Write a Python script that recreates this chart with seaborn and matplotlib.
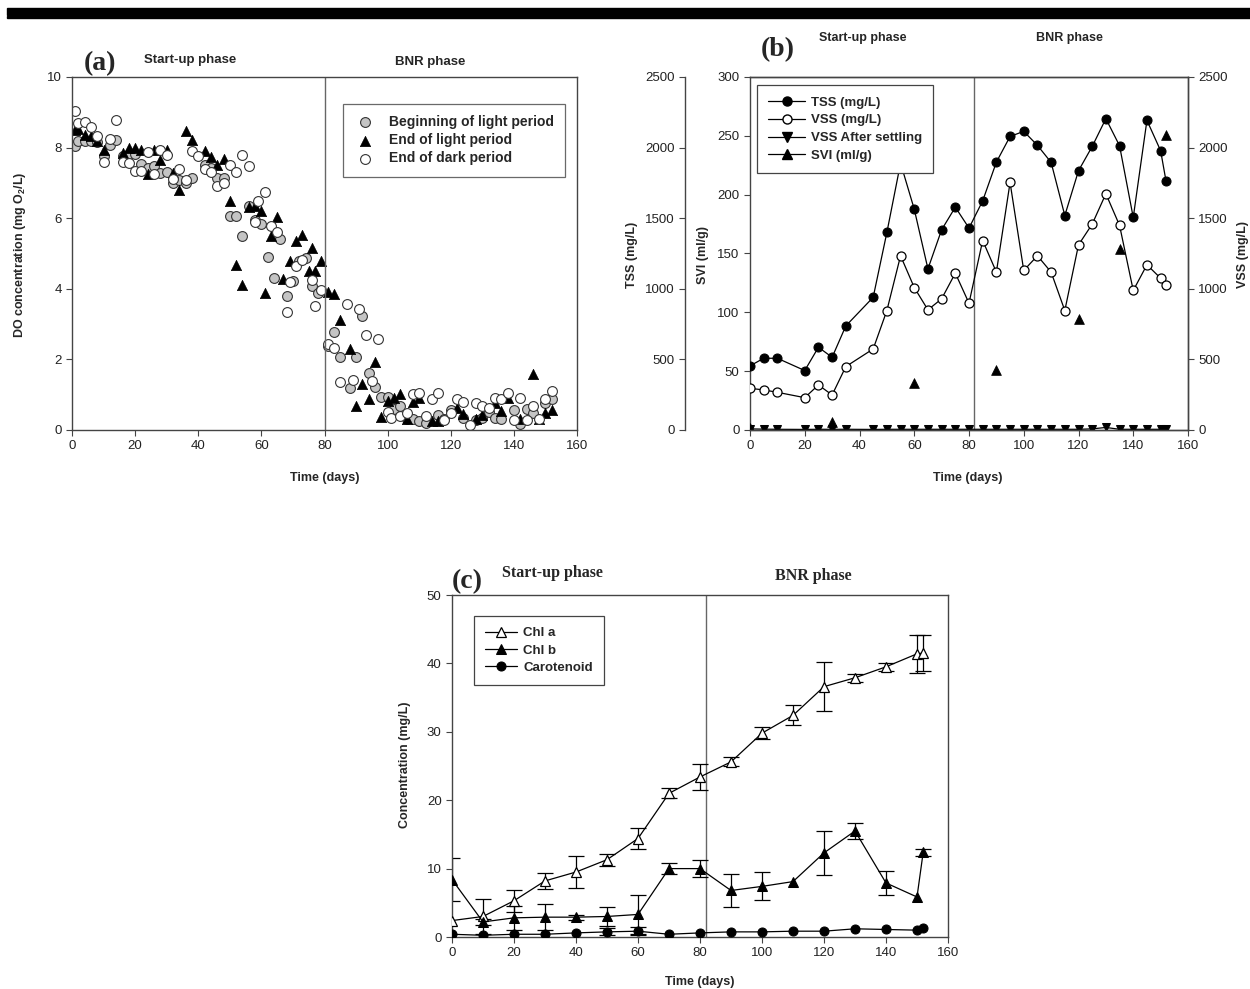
import numpy as np
import pandas as pd
import seaborn as sns
import matplotlib.pyplot as plt
from matplotlib.lines import Line2D
from matplotlib.patches import Rectangle

# ---- panel (a): DO concentration ----
gray_day = [1, 2, 4, 6, 8, 10, 12, 14, 16, 18,
            20, 22, 24, 26, 28, 30, 32, 34, 36, 38,
            42, 44, 46, 48, 50, 52, 54, 56, 58, 60,
            62, 64, 66, 68, 70, 72, 74, 76, 78, 81,
            83, 85, 88, 90, 92, 94, 96, 98, 100, 102,
            104, 106, 108, 110, 112, 116, 118, 120, 124, 128,
            130, 132, 134, 136, 140, 142, 144, 146, 150, 152]
gray_val = [8.05, 8.18, 8.2, 8.2, 8.15, 7.75, 8.08, 8.22, 7.75, 7.82,
            7.82, 7.54, 7.42, 7.49, 7.28, 7.3, 7.0, 7.09, 7.0, 7.14,
            7.5, 7.42, 7.14, 7.14, 6.06, 6.06, 5.49, 6.34, 5.96, 5.84,
            4.9, 4.31, 5.4, 3.79, 4.22, 4.78, 4.88, 4.08, 3.89, 2.38,
            2.77, 2.07, 1.2, 2.07, 3.23, 1.62, 1.23, 0.93, 0.93, 0.6,
            0.68, 0.3, 0.32, 0.25, 0.21, 0.42, 0.3, 0.58, 0.35, 0.27,
            0.35, 0.51, 0.35, 0.3, 0.57, 0.18, 0.6, 0.47, 0.77, 0.89]

tri_day = [1, 2, 4, 6, 8, 10, 16, 18, 20, 22,
           24, 26, 28, 30, 32, 34, 36, 38, 42, 44,
           46, 48, 50, 52, 54, 56, 58, 60, 61, 63,
           65, 67, 69, 71, 73, 75, 76, 77, 79, 81,
           83, 85, 88, 90, 92, 94, 96, 98, 100, 102,
           104, 106, 108, 110, 114, 116, 122, 124, 128, 130,
           134, 136, 138, 142, 146, 148, 150, 152]
tri_val = [8.5, 8.53, 8.37, 8.32, 8.18, 7.92, 7.85, 7.99, 7.99, 7.92,
           7.26, 7.92, 7.66, 7.92, 7.28, 6.81, 8.48, 8.21, 7.9, 7.74,
           7.52, 7.68, 6.5, 4.67, 4.1, 6.31, 6.34, 6.19, 3.89, 5.49,
           6.03, 4.29, 4.8, 5.35, 5.51, 4.5, 5.16, 4.5, 4.78, 3.9,
           3.84, 3.13, 2.3, 0.68, 1.29, 0.87, 1.92, 0.37, 0.82, 0.92,
           1.03, 0.3, 0.8, 0.9, 0.25, 0.25, 0.63, 0.44, 0.3, 0.42,
           0.77, 0.54, 0.92, 0.32, 1.59, 0.32, 0.49, 0.57]

open_day = [1, 2, 4, 6, 8, 10, 12, 14, 16, 18,
            20, 22, 24, 26, 28, 30, 32, 34, 36, 38,
            40, 42, 44, 46, 48, 50, 52, 54, 56, 58,
            59, 61, 63, 65, 68, 69, 71, 73, 76, 77,
            79, 81, 83, 85, 87, 89, 91, 93, 95, 97,
            100, 101, 104, 106, 108, 110, 112, 114, 116, 118,
            120, 122, 124, 126, 128, 130, 132, 134, 136, 138,
            140, 142, 144, 146, 148, 150, 152]
open_val = [9.03, 8.7, 8.73, 8.58, 8.34, 7.58, 8.25, 8.77, 7.58, 7.57,
            7.35, 7.35, 7.88, 7.24, 7.92, 7.8, 7.11, 7.38, 7.09, 7.9,
            7.75, 7.4, 7.3, 6.9, 7.0, 7.5, 7.3, 7.8, 7.47, 5.9,
            6.5, 6.73, 5.77, 5.6, 3.35, 4.2, 4.66, 4.83, 4.24, 3.5,
            3.98, 2.45, 2.33, 1.36, 3.56, 1.43, 3.42, 2.68, 1.39, 2.57,
            0.51, 0.35, 0.4, 0.47, 1.03, 1.06, 0.4, 0.89, 1.06, 0.28,
            0.49, 0.89, 0.79, 0.13, 0.77, 0.68, 0.63, 0.92, 0.89, 1.06,
            0.27, 0.91, 0.27, 0.68, 0.32, 0.89, 1.1]

# ---- panel (b): solids ----
b_day = [0, 5, 10, 20, 25, 30, 35, 45, 50, 55, 60, 65, 70, 75, 80,
         85, 90, 95, 100, 105, 110, 115, 120, 125, 130, 135, 140, 145, 150, 152]
tss = [454, 508, 508, 421, 586, 515, 737, 940, 1399, 1890, 1564, 1141, 1418, 1578, 1430,
       1623, 1897, 2079, 2115, 2016, 1895, 1519, 1836, 2008, 2205, 2013, 1505, 2193, 1978, 1760]
vss = [295, 284, 267, 229, 319, 248, 449, 574, 846, 1234, 1009, 851, 929, 1111, 898,
       1342, 1118, 1753, 1130, 1234, 1118, 846, 1311, 1458, 1673, 1449, 988, 1170, 1075, 1028]
vss_settled = [8, 6, 5, 4, 5, 5, 5, 4, 5, 5, 5, 5, 5, 5, 5,
               5, 5, 5, 5, 5, 5, 5, 5, 8, 18, 5, 5, 5, 5, 5]
svi_day = [0, 30, 60, 90, 120, 135, 152]
svi = [2, 7, 40, 51, 94, 154, 251]

# ---- panel (c): pigments ----
c_day = [0, 10, 20, 30, 40, 50, 60, 70, 80, 90, 100, 110, 120, 130, 140, 150, 152]
chla = [2.4, 3.0, 5.3, 8.2, 9.5, 11.3, 14.4, 21.0, 23.4, 25.6, 29.8, 32.4, 36.6, 37.9, 39.5, 41.4, 41.5]
chla_err = [0.0, 2.5, 1.6, 1.2, 2.3, 0.85, 1.6, 0.75, 1.9, 0.65, 0.85, 1.45, 3.6, 0.55, 0.55, 2.75, 2.65]
chlb = [8.4, 2.2, 2.8, 2.9, 2.9, 3.0, 3.3, 10.0, 10.0, 6.8, 7.4, 8.1, 12.3, 15.5, 7.9, 5.85, 12.4]
chlb_err = [3.2, 0.5, 1.8, 1.9, 0.35, 1.35, 2.8, 0.8, 1.2, 2.35, 2.05, 0.0, 3.2, 1.2, 1.8, 0.0, 0.5]
car = [0.4, 0.25, 0.4, 0.4, 0.6, 0.75, 0.85, 0.4, 0.6, 0.75, 0.75, 0.85, 0.85, 1.2, 1.1, 1.0, 1.35]
car_err = [0, 0, 0, 0, 0, 0.5, 0.6, 0, 0, 0, 0, 0, 0, 0, 0, 0, 0]

sns.set_theme(style="ticks")
plt.rcParams['font.family'] = ['Liberation Sans', 'DejaVu Sans']
plt.rcParams['mathtext.fontset'] = 'custom'
plt.rcParams['mathtext.rm'] = 'Liberation Sans:bold'
plt.rcParams['mathtext.default'] = 'rm'

W, H = 1250, 989
EDGE = '#444444'
fig = plt.figure(figsize=(W / 100, H / 100), dpi=100)


def px_axes(l, t, r, b):
    return fig.add_axes([l / W, 1 - b / H, (r - l) / W, (b - t) / H])


def ftext(x, y, s, **kw):
    fig.text(x / W, 1 - y / H, s, ha='center', va='center', **kw)


def style(ax):
    for sp in ax.spines.values():
        sp.set_color(EDGE)
        sp.set_linewidth(1.0)
    ax.tick_params(direction='out', length=4, width=0.8, color=EDGE, labelsize=9.5, labelcolor='#222222')


lab = dict(fontsize=9, fontweight='bold')
serif = dict(family=['Liberation Serif', 'DejaVu Serif'], fontweight='bold')

# top banner
fig.add_artist(Rectangle((7 / W, 1 - 15 / H), 1, 7 / H, transform=fig.transFigure, color='black'))
fig.add_artist(Rectangle((7 / W, 1 - 18 / H), 1, 1.6 / H, transform=fig.transFigure, color='black'))

# ---------------- (a) ----------------
ax_a = px_axes(72, 77, 577, 430)
sns.scatterplot(x=gray_day, y=gray_val, ax=ax_a, marker='o', s=50, color='#c4c4c4',
                edgecolor='#333333', linewidth=0.8, label='Beginning of light period')
sns.scatterplot(x=tri_day, y=tri_val, ax=ax_a, marker='^', s=55, color='black',
                edgecolor='black', linewidth=0.5, label='End of light period')
sns.scatterplot(x=open_day, y=open_val, ax=ax_a, marker='o', s=50, color='white',
                edgecolor='#333333', linewidth=0.8, label='End of dark period')
ax_a.axvline(80, color='#666666', lw=1)
ax_a.set_xlim(0, 160)
ax_a.set_ylim(0, 10)
ax_a.set_xticks(range(0, 161, 20))
ax_a.set_yticks(range(0, 11, 2))
ax_a.set_xlabel('')
ax_a.set_ylabel('')
style(ax_a)
leg = ax_a.legend(loc='upper left', bbox_to_anchor=(0.537, 0.9235), borderaxespad=0, frameon=True,
                  fancybox=False, edgecolor=EDGE, prop={'weight': 'bold', 'size': 10}, handletextpad=0.9,
                  borderpad=0.8, labelspacing=0.3, handlelength=1.6)
leg.get_frame().set_linewidth(0.9)
ftext(20, 255, 'DO concentration (mg O$_2$/L)', rotation=90, **lab)
ftext(325, 478, 'Time (days)', **lab)
ftext(100, 64, '(a)', fontsize=20, **serif)
ftext(190, 60, 'Start-up phase', fontsize=9.5, fontweight='bold')
ftext(430, 62, 'BNR phase', fontsize=9.5, fontweight='bold')

# ---------------- (b) ----------------
ax_b = px_axes(750, 77, 1188, 430)
ax_vss = ax_b.twinx()
ax_tss = ax_b.twinx()
ax_tss.spines['left'].set_position(('outward', 65 * 0.72))
ax_tss.yaxis.set_ticks_position('left')
for name in ['right', 'top', 'bottom']:
    ax_tss.spines[name].set_visible(False)
ax_vss.spines['left'].set_visible(False)

ax_b.axvline(82, color='#666666', lw=1)
sns.scatterplot(x=svi_day, y=svi, ax=ax_b, marker='^', s=50, color='black', edgecolor='black',
                linewidth=0.5, legend=False, zorder=4)
sns.lineplot(x=b_day, y=vss_settled, ax=ax_vss, color='black', lw=0.9, marker='v', markersize=6,
             markerfacecolor='black', markeredgecolor='black', legend=False)
sns.lineplot(x=b_day, y=vss, ax=ax_vss, color='black', lw=0.9, marker='o', markersize=6.5,
             markerfacecolor='white', markeredgecolor='black', markeredgewidth=0.9, legend=False)
sns.lineplot(x=b_day, y=tss, ax=ax_tss, color='black', lw=0.9, marker='o', markersize=6.5,
             markerfacecolor='black', markeredgecolor='black', legend=False)

ax_b.set_xlim(0, 160)
ax_b.set_ylim(0, 300)
ax_b.set_xticks(range(0, 161, 20))
ax_b.set_yticks(range(0, 301, 50))
for a in (ax_vss, ax_tss):
    a.set_ylim(0, 2500)
    a.set_yticks(range(0, 2501, 500))
    a.set_ylabel('')
for a in (ax_b, ax_vss, ax_tss):
    style(a)
    a.set_xlabel('')
ax_b.set_ylabel('')

handles_b = [
    Line2D([], [], color='black', lw=0.9, marker='o', ms=6.5, mfc='black', mec='black'),
    Line2D([], [], color='black', lw=0.9, marker='o', ms=6.5, mfc='white', mec='black'),
    Line2D([], [], color='black', lw=0.9, marker='v', ms=6.5, mfc='black', mec='black'),
    Line2D([], [], color='black', lw=0.9, marker='^', ms=6.5, mfc='black', mec='black'),
]
labels_b = ['TSS (mg/L)', 'VSS (mg/L)', 'VSS After settling', 'SVI (ml/g)']
leg = ax_tss.legend(handles_b, labels_b, loc='upper left', bbox_to_anchor=(0.016, 0.977), borderaxespad=0,
                    frameon=True, fancybox=False, edgecolor=EDGE, framealpha=1,
                    prop={'weight': 'bold', 'size': 9.5}, handlelength=2.8, handletextpad=0.45,
                    labelspacing=0.42, borderpad=0.85)
leg.get_frame().set_linewidth(0.9)
leg.set_zorder(10)
ftext(632, 255, 'TSS (mg/L)', rotation=90, **lab)
ftext(703, 255, 'SVI (ml/g)', rotation=90, **lab)
ftext(1243, 255, 'VSS (mg/L)', rotation=90, **lab)
ftext(968, 478, 'Time (days)', **lab)
ftext(778, 50, '(b)', fontsize=20, **serif)
ftext(863, 38, 'Start-up phase', fontsize=9, fontweight='bold')
ftext(1069, 38, 'BNR phase', fontsize=9, fontweight='bold')

# ---------------- (c) ----------------
ax_c = px_axes(452, 595, 948, 937)
ax_c.axvline(82, color='#666666', lw=1)
for vals, errs in ((chla, chla_err), (chlb, chlb_err), (car, car_err)):
    keep = [i for i, e in enumerate(errs) if e > 0]
    ax_c.errorbar([c_day[i] for i in keep], [vals[i] for i in keep], yerr=[errs[i] for i in keep],
                  fmt='none', ecolor='black', elinewidth=0.9, capsize=6, capthick=0.9, zorder=2)
sns.lineplot(x=c_day, y=chla, ax=ax_c, color='black', lw=0.9, marker='^', markersize=7,
             markerfacecolor='white', markeredgecolor='black', markeredgewidth=0.9, label='Chl a', zorder=3)
sns.lineplot(x=c_day, y=chlb, ax=ax_c, color='black', lw=0.9, marker='^', markersize=7,
             markerfacecolor='black', markeredgecolor='black', label='Chl b', zorder=3)
sns.lineplot(x=c_day, y=car, ax=ax_c, color='black', lw=0.9, marker='o', markersize=6.5,
             markerfacecolor='black', markeredgecolor='black', label='Carotenoid', zorder=3)
ax_c.set_xlim(0, 160)
ax_c.set_ylim(0, 50)
ax_c.set_xticks(range(0, 161, 20))
ax_c.set_yticks(range(0, 51, 10))
ax_c.set_xlabel('')
ax_c.set_ylabel('')
style(ax_c)
leg = ax_c.legend(loc='upper left', bbox_to_anchor=(0.044, 0.939), borderaxespad=0, frameon=True,
                  fancybox=False, edgecolor=EDGE, framealpha=1, prop={'weight': 'bold', 'size': 9.5},
                  handlelength=2.4, handletextpad=0.5, labelspacing=0.38, borderpad=0.85)
leg.get_frame().set_linewidth(0.9)
ftext(405, 765, 'Concentration (mg/L)', rotation=90, **lab)
ftext(700, 982, 'Time (days)', **lab)
ftext(467, 582, '(c)', fontsize=20, **serif)
ftext(552, 573, 'Start-up phase', fontsize=11.5, **serif)
ftext(813, 576, 'BNR phase', fontsize=11.5, **serif)

fig.savefig('out.png', dpi=100, facecolor='white')
